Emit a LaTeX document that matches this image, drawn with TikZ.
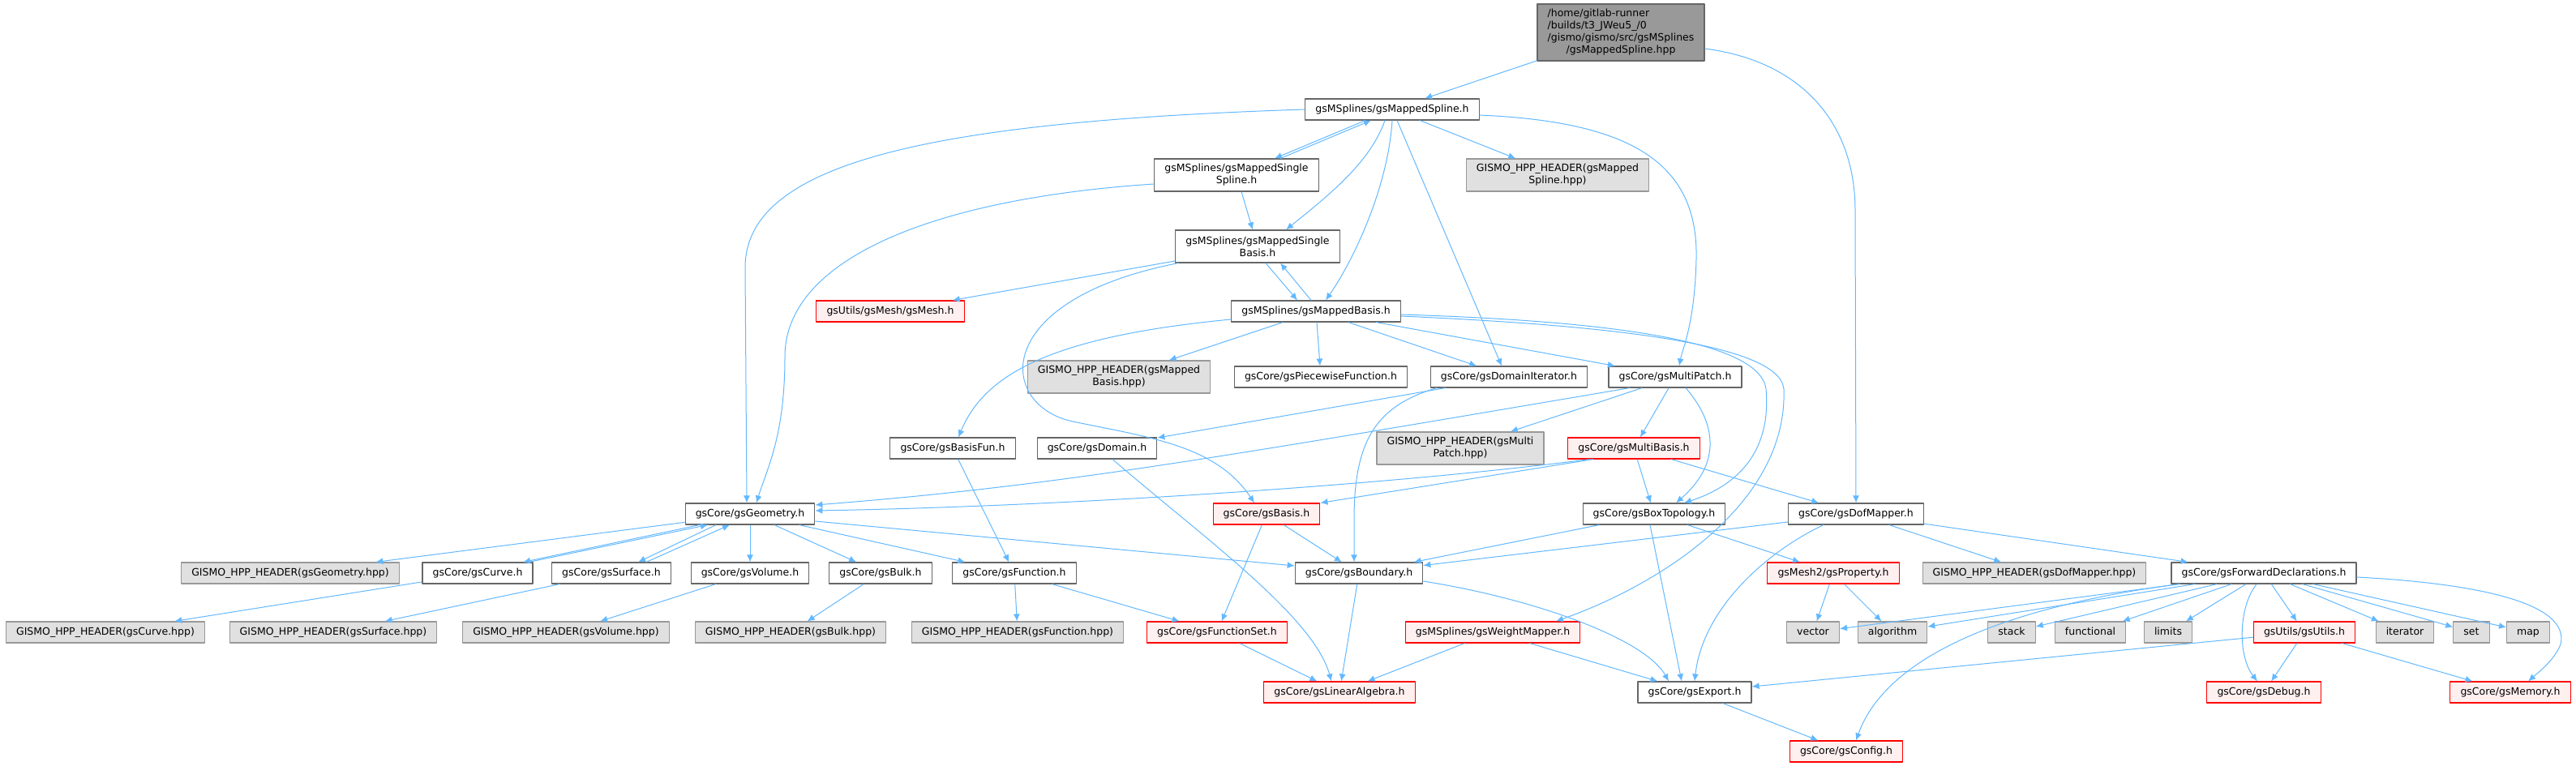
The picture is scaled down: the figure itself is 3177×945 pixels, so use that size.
\documentclass[tikz,border=0pt]{standalone}
\usepackage{fontspec}
\setmainfont{DejaVu Sans}
\usetikzlibrary{arrows.meta,calc}

\definecolor{steel}{HTML}{63B8FF}
\definecolor{nodeline}{HTML}{666666}
\definecolor{sysline}{HTML}{999999}
\definecolor{sysfill}{HTML}{E0E0E0}
\definecolor{redfill}{HTML}{FFF0F0}
\definecolor{rootfill}{HTML}{999999}
\newcommand{\graphfont}{\fontsize{6.25pt}{7.5pt}\selectfont}

\tikzset{
  hdr/.style={draw=nodeline,fill=white,line width=0.55pt,font=\graphfont,
    inner xsep=6.3pt,inner ysep=0pt,minimum height=13pt,
    text height=4.7pt,text depth=1.5pt},
  sys/.style={hdr,draw=sysline,fill=sysfill},
  bad/.style={hdr,draw=red,fill=redfill},
  rootbox/.style={hdr,fill=rootfill,text height={},text depth={},minimum height=35pt},
  twoline/.style={align=center,text height={},text depth={},minimum height=20pt},
  dep/.style={draw=steel,line width=0.5pt,->},
}

\begin{document}
\begin{tikzpicture}[x=0.5pt,y=-0.5pt,>={Latex[length=4.5pt,width=4pt]},line join=round]
  \useasboundingbox (0,0) rectangle (3177,945);

  % the file itself
  \node[rootbox] (root) at (1999,40) {\begin{tabular}{@{}l@{}}/home/gitlab-runner\\/builds/t3\_JWeu5\_/0\\/gismo/gismo/src/gsMSplines\\\multicolumn{1}{@{}c@{}}{/gsMappedSpline.hpp}\end{tabular}};

  % gsMSplines headers
  \node[hdr] (MS) at (1717,135) {gsMSplines/gsMappedSpline.h};
  \node[hdr,twoline] (MSS) at (1525,216) {gsMSplines/gsMappedSingle\\Spline.h};
  \node[sys,twoline] (hMS) at (1921,216) {GISMO\_HPP\_HEADER(gsMapped\\Spline.hpp)};
  \node[hdr,twoline] (MSB) at (1551,304) {gsMSplines/gsMappedSingle\\Basis.h};
  \node[bad] (mesh) at (1098,384) {gsUtils/gsMesh/gsMesh.h};
  \node[hdr] (MB) at (1623,384) {gsMSplines/gsMappedBasis.h};

  \node[sys,twoline] (hMB) at (1380,465) {GISMO\_HPP\_HEADER(gsMapped\\Basis.hpp)};
  \node[hdr] (pwf) at (1629,465) {gsCore/gsPiecewiseFunction.h};
  \node[hdr] (domit) at (1861,465) {gsCore/gsDomainIterator.h};
  \node[hdr] (mp) at (2066,465) {gsCore/gsMultiPatch.h};

  \node[hdr] (bfun) at (1175,553) {gsCore/gsBasisFun.h};
  \node[hdr] (dom) at (1353,553) {gsCore/gsDomain.h};
  \node[sys,twoline] (hMP) at (1801,553) {GISMO\_HPP\_HEADER(gsMulti\\Patch.hpp)};
  \node[bad] (mbas) at (2015,553) {gsCore/gsMultiBasis.h};

  \node[hdr] (geo) at (925,634) {gsCore/gsGeometry.h};
  \node[bad] (basis) at (1562,634) {gsCore/gsBasis.h};
  \node[hdr] (boxtop) at (2040,634) {gsCore/gsBoxTopology.h};
  \node[hdr] (dof) at (2289,634) {gsCore/gsDofMapper.h};

  \node[sys] (hgeo) at (358,707) {GISMO\_HPP\_HEADER(gsGeometry.hpp)};
  \node[hdr] (curve) at (589,707) {gsCore/gsCurve.h};
  \node[hdr] (surf) at (754,707) {gsCore/gsSurface.h};
  \node[hdr] (vol) at (925,707) {gsCore/gsVolume.h};
  \node[hdr] (bulk) at (1086,707) {gsCore/gsBulk.h};
  \node[hdr] (func) at (1251,707) {gsCore/gsFunction.h};
  \node[hdr] (bnd) at (1676,707) {gsCore/gsBoundary.h};
  \node[bad] (prop) at (2261,707) {gsMesh2/gsProperty.h};
  \node[sys] (hdof) at (2509,707) {GISMO\_HPP\_HEADER(gsDofMapper.hpp)};
  \node[hdr] (fwd) at (2792,707) {gsCore/gsForwardDeclarations.h};

  \node[sys] (hcurve) at (130,780) {GISMO\_HPP\_HEADER(gsCurve.hpp)};
  \node[sys] (hsurf) at (411,780) {GISMO\_HPP\_HEADER(gsSurface.hpp)};
  \node[sys] (hvol) at (698,780) {GISMO\_HPP\_HEADER(gsVolume.hpp)};
  \node[sys] (hbulk) at (975,780) {GISMO\_HPP\_HEADER(gsBulk.hpp)};
  \node[sys] (hfunc) at (1255,780) {GISMO\_HPP\_HEADER(gsFunction.hpp)};
  \node[bad] (fset) at (1501,780) {gsCore/gsFunctionSet.h};
  \node[bad] (wmap) at (1841,780) {gsMSplines/gsWeightMapper.h};
  \node[sys] (vec) at (2236,780) {vector};
  \node[sys] (algo) at (2334,780) {algorithm};
  \node[sys] (stack) at (2481,780) {stack};
  \node[sys] (functional) at (2578,780) {functional};
  \node[sys] (limits) at (2674,780) {limits};
  \node[bad] (utils) at (2842,780) {gsUtils/gsUtils.h};
  \node[sys] (iter) at (2966,780) {iterator};
  \node[sys] (stdset) at (3048,780) {set};
  \node[sys] (stdmap) at (3118,780) {map};

  \node[bad] (linalg) at (1652,854) {gsCore/gsLinearAlgebra.h};
  \node[hdr] (export) at (2090,854) {gsCore/gsExport.h};
  \node[bad] (debug) at (2792,854) {gsCore/gsDebug.h};
  \node[bad] (memory) at (3096,854) {gsCore/gsMemory.h};
  \node[bad] (config) at (2277,927) {gsCore/gsConfig.h};

  % includes of the file
  \draw[dep] (root) -- (MS);
  \draw[dep] ($(root.east)+(0,20)$) .. controls (2220,75) and (2288,150) .. (2288,260) -- (dof.north);

  % gsMappedSpline.h
  \draw[dep] (MS.west) .. controls (1150,150) and (919,200) .. (919,330) -- ($(geo.north)+(-4,0)$);
  \draw[dep] ($(MS.south)+(-33,0)$) -- ($(MSS.north)+(47,0)$);
  \draw[dep] (MS) -- (hMS);
  \draw[dep] ($(MS.south)+(-9,0)$) .. controls (1690,200) and (1640,240) .. ($(MSB.north)+(35,0)$);
  \draw[dep] (MS.south) .. controls (1712,230) and (1670,320) .. ($(MB.north)+(12,0)$);
  \draw[dep] ($(MS.south)+(6,0)$) -- ($(domit.north)+(-9,0)$);
  \draw[dep] ($(MS.east)+(0,7)$) .. controls (2010,150) and (2095,200) .. (2092,320) .. controls (2090,400) and (2075,430) .. ($(mp.north)+(5,0)$);

  % gsMappedSingleSpline.h
  \draw[dep] ($(MSS.north)+(54,0)$) -- ($(MS.south)+(-26,0)$);
  \draw[dep] (MSS) -- (MSB);
  \draw[dep] ($(MSS.west)+(0,11)$) .. controls (1150,245) and (968,320) .. (968,440) .. controls (968,540) and (945,580) .. ($(geo.north)+(8,0)$);

  % gsMappedSingleBasis.h
  \draw[dep] (MSB) -- (mesh);
  \draw[dep] ($(MSB.south)+(10,0)$) -- ($(MB.north)+(-23,0)$);
  \draw[dep] ($(MSB.south west)+(4,0)$) .. controls (1220,370) and (1230,500) .. (1323,520) .. controls (1420,540) and (1500,550) .. ($(basis.north)+(-15,0)$);

  % gsMappedBasis.h
  \draw[dep] ($(MB.north)+(-6,0)$) -- ($(MSB.south)+(28,0)$);
  \draw[dep] (MB) -- (hMB);
  \draw[dep] (MB) -- (pwf);
  \draw[dep] (MB) -- (domit);
  \draw[dep] (MB) -- (mp);
  \draw[dep] ($(MB.west)+(0,10)$) .. controls (1300,415) and (1215,460) .. ($(bfun.north)+(7,0)$);
  \draw[dep] ($(MB.east)+(0,4)$) .. controls (1950,395) and (2170,415) .. (2178,480) .. controls (2185,560) and (2140,600) .. ($(boxtop.north)+(37,0)$);
  \draw[dep] ($(MB.east)+(0,6)$) .. controls (1950,400) and (2195,420) .. (2200,480) .. controls (2205,620) and (2050,720) .. ($(wmap.north)+(78,0)$);

  % gsDomainIterator.h
  \draw[dep] (domit) -- (dom);
  \draw[dep] ($(domit.south)+(-89,0)$) .. controls (1700,500) and (1670,540) .. (1670,640) -- ($(bnd.north)+(-6,0)$);

  % gsMultiPatch.h
  \draw[dep] ($(mp.south)+(-56,0)$) .. controls (1500,565) and (1300,600) .. ($(geo.east)+(0,-11)$);
  \draw[dep] (mp) -- (hMP);
  \draw[dep] (mp) -- (mbas);
  \draw[dep] ($(mp.south)+(13,0)$) .. controls (2115,520) and (2125,570) .. ($(boxtop.north)+(27,0)$);

  % gsMultiBasis.h
  \draw[dep] ($(mbas.south)+(-54,0)$) .. controls (1700,600) and (1300,625) .. ($(geo.east)+(0,-4)$);
  \draw[dep] ($(mbas.south)+(-50,0)$) -- (basis.north east);
  \draw[dep] (mbas) -- (boxtop);
  \draw[dep] (mbas) -- (dof);

  % gsGeometry.h and the cycles with curve/surface
  \draw[dep] (geo) -- (hgeo);
  \draw[dep] ($(geo.south)+(-62,0)$) -- ($(curve.north)+(56,0)$);
  \draw[dep] ($(curve.north)+(63,0)$) -- ($(geo.south)+(-52,0)$);
  \draw[dep] ($(geo.south)+(-42,0)$) -- ($(surf.north)+(33,0)$);
  \draw[dep] ($(surf.north)+(43,0)$) -- ($(geo.south)+(-25,0)$);
  \draw[dep] (geo) -- (vol);
  \draw[dep] (geo) -- (bulk);
  \draw[dep] (geo) -- (func);
  \draw[dep] ($(geo.east)+(0,9)$) -- ($(bnd.west)+(0,-9)$);

  \draw[dep] (curve) -- (hcurve);
  \draw[dep] (surf) -- (hsurf);
  \draw[dep] (vol) -- (hvol);
  \draw[dep] (bulk) -- (hbulk);

  % basis / function part
  \draw[dep] (basis) -- (fset);
  \draw[dep] (basis) -- (bnd);
  \draw[dep] (bfun) -- (func);
  \draw[dep] (func) -- (hfunc);
  \draw[dep] (func) -- (fset);
  \draw[dep] ($(dom.south)+(19,0)$) .. controls (1480,660) and (1620,760) .. ($(linalg.north)+(-10,0)$);
  \draw[dep] (fset) -- (linalg);

  % boundary, topology, dof mapper
  \draw[dep] (bnd) -- (linalg);
  \draw[dep] ($(bnd.east)+(0,10)$) .. controls (1900,740) and (2030,790) .. ($(export.north)+(-32,0)$);
  \draw[dep] (boxtop) -- (bnd);
  \draw[dep] ($(boxtop.south)+(-5,0)$) -- ($(export.north)+(-16,0)$);
  \draw[dep] (boxtop) -- (prop);
  \draw[dep] (dof) -- (bnd);
  \draw[dep] ($(dof.south)+(-40,0)$) .. controls (2180,680) and (2100,750) .. (export.north);
  \draw[dep] (dof) -- (hdof);
  \draw[dep] (dof) -- (fwd);

  \draw[dep] (wmap) -- (linalg);
  \draw[dep] (wmap) -- (export);
  \draw[dep] (prop) -- (vec);
  \draw[dep] (prop) -- (algo);

  % gsForwardDeclarations.h
  \draw[dep] (fwd) -- (vec);
  \draw[dep] (fwd) -- (algo);
  \draw[dep] (fwd) -- (stack);
  \draw[dep] (fwd) -- (functional);
  \draw[dep] (fwd) -- (limits);
  \draw[dep] (fwd) -- (utils);
  \draw[dep] (fwd) -- (iter);
  \draw[dep] (fwd) -- (stdset);
  \draw[dep] (fwd) -- (stdmap);
  \draw[dep] ($(fwd.east)+(0,5)$) .. controls (3060,720) and (3170,745) .. (3158,795) .. controls (3150,815) and (3130,830) .. ($(memory.north)+(22,0)$);
  \draw[dep] ($(fwd.south)+(-9,0)$) .. controls (2760,750) and (2760,810) .. ($(debug.north)+(-8,0)$);
  \draw[dep] ($(fwd.south west)+(10,0)$) .. controls (2500,745) and (2330,800) .. ($(config.north)+(12,0)$);

  % gsUtils.h
  \draw[dep] (utils) -- (export);
  \draw[dep] (utils) -- (debug);
  \draw[dep] (utils) -- (memory);
  \draw[dep] (export) -- (config);
\end{tikzpicture}
\end{document}
